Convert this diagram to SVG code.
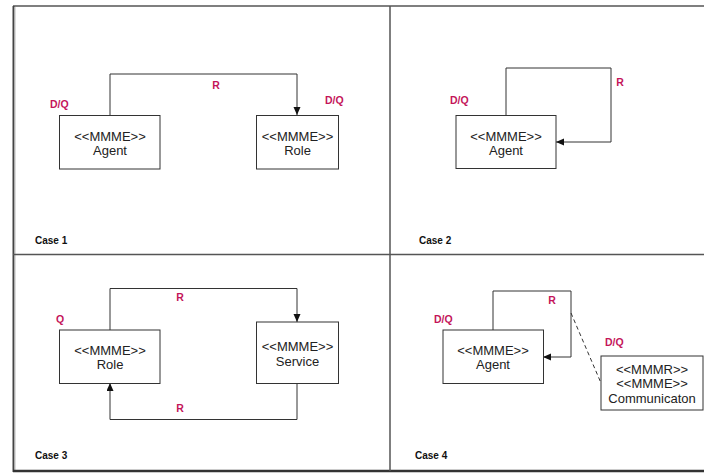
<svg xmlns="http://www.w3.org/2000/svg" width="704" height="474" viewBox="0 0 704 474">
  <style>
    .frame { fill: none; stroke: #555; stroke-width: 1.5; }
    .node rect { fill: #fff; stroke: #333; stroke-width: 1; }
    .node text { font-family: "Liberation Sans", Arial, sans-serif; font-size: 13px; fill: #222; text-anchor: middle; }
    .wire { fill: none; stroke: #333; stroke-width: 1; }
    .dash { stroke-dasharray: 4 3; }
    .tag { font-family: "Liberation Sans", Arial, sans-serif; font-size: 10.5px; font-weight: bold; fill: #c4145a; }
    .case { font-family: "Liberation Sans", Arial, sans-serif; font-size: 10px; font-weight: bold; fill: #111; }
  </style>
  <defs>
    <marker id="arrow" markerUnits="userSpaceOnUse" markerWidth="9" markerHeight="8" refX="8" refY="3.5" orient="auto">
      <path d="M0,0 L8,3.5 L0,7 z" fill="#111"/>
    </marker>
  </defs>

  <rect width="704" height="474" fill="#fff"/>

  <!-- outer frame and quadrant dividers -->
  <g id="frame">
    <line x1="13" y1="6" x2="704" y2="6" class="frame"/>
    <line x1="13.5" y1="6" x2="13.5" y2="472" stroke="#444" stroke-width="2"/>
    <line x1="15" y1="7" x2="15" y2="470" stroke="#bbb" stroke-width="1"/>
    <line x1="13" y1="471" x2="704" y2="471" stroke="#333" stroke-width="2.5"/>
    <line x1="390" y1="6" x2="390" y2="471" class="frame"/>
    <line x1="13" y1="254.5" x2="704" y2="254.5" class="frame"/>
  </g>

  <!-- connectors -->
  <g id="connectors">
    <polyline class="wire" points="110,115 110,74 297,74 297,115" marker-end="url(#arrow)"/>
    <polyline class="wire" points="506,115 506,68 611,68 611,142 556,142" marker-end="url(#arrow)"/>
    <polyline class="wire" points="110,330 110,288.5 297,288.5 297,322" marker-end="url(#arrow)"/>
    <polyline class="wire" points="297,383 297,419.5 110,419.5 110,383" marker-end="url(#arrow)"/>
    <polyline class="wire" points="493,330 493,291 571,291 571,357 543,357" marker-end="url(#arrow)"/>
    <line class="wire dash" x1="571" y1="313" x2="601" y2="383"/>
  </g>

  <!-- Case 1 -->
  <g id="case1-agent" class="node">
    <rect x="59.5" y="115.5" width="100.5" height="53.5"/>
    <text x="110" y="140.5">&lt;&lt;MMME&gt;&gt;</text>
    <text x="110" y="154.5">Agent</text>
  </g>
  <g id="case1-role" class="node">
    <rect x="256.5" y="115.5" width="82" height="53.5"/>
    <text x="297.5" y="140.5">&lt;&lt;MMME&gt;&gt;</text>
    <text x="297.5" y="154.5">Role</text>
  </g>

  <!-- Case 2 -->
  <g id="case2-agent" class="node">
    <rect x="456" y="115.5" width="100" height="53"/>
    <text x="506" y="140.5">&lt;&lt;MMME&gt;&gt;</text>
    <text x="506" y="154.5">Agent</text>
  </g>

  <!-- Case 3 -->
  <g id="case3-role" class="node">
    <rect x="59.5" y="330" width="100.5" height="53.5"/>
    <text x="110" y="355">&lt;&lt;MMME&gt;&gt;</text>
    <text x="110" y="369">Role</text>
  </g>
  <g id="case3-service" class="node">
    <rect x="256.5" y="322" width="82" height="61.5"/>
    <text x="297.5" y="350.5">&lt;&lt;MMME&gt;&gt;</text>
    <text x="297.5" y="365.5">Service</text>
  </g>

  <!-- Case 4 -->
  <g id="case4-agent" class="node">
    <rect x="443" y="330" width="100.5" height="53.5"/>
    <text x="493" y="355">&lt;&lt;MMME&gt;&gt;</text>
    <text x="493" y="369">Agent</text>
  </g>
  <g id="case4-communication" class="node">
    <rect x="601" y="356" width="102" height="54"/>
    <text x="652" y="374">&lt;&lt;MMMR&gt;&gt;</text>
    <text x="652" y="388">&lt;&lt;MMME&gt;&gt;</text>
    <text x="652" y="402.5">Communicaton</text>
  </g>

  <!-- relation tags -->
  <g id="tags">
    <text class="tag" x="216" y="88.5" text-anchor="middle">R</text>
    <text class="tag" x="50" y="108">D/Q</text>
    <text class="tag" x="325" y="103.5">D/Q</text>
    <text class="tag" x="620" y="86" text-anchor="middle">R</text>
    <text class="tag" x="450" y="103.5">D/Q</text>
    <text class="tag" x="180" y="300.5" text-anchor="middle">R</text>
    <text class="tag" x="180" y="411.5" text-anchor="middle">R</text>
    <text class="tag" x="56" y="323">Q</text>
    <text class="tag" x="552" y="303.5" text-anchor="middle">R</text>
    <text class="tag" x="434" y="323">D/Q</text>
    <text class="tag" x="605" y="346">D/Q</text>
  </g>

  <!-- quadrant captions -->
  <g id="captions">
    <text class="case" x="35" y="244">Case 1</text>
    <text class="case" x="419" y="244">Case 2</text>
    <text class="case" x="35" y="458.5">Case 3</text>
    <text class="case" x="415" y="458.5">Case 4</text>
  </g>
</svg>
